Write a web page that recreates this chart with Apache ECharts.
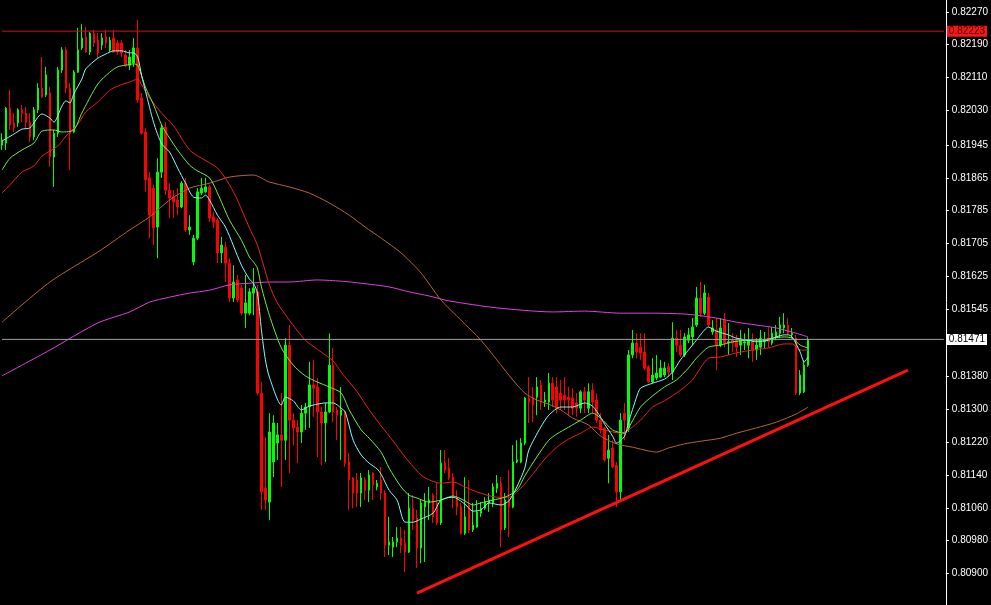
<!DOCTYPE html>
<html><head><meta charset="utf-8">
<script src="https://cdn.jsdelivr.net/npm/echarts@6/dist/echarts.min.js"></script>
<style>html,body{margin:0;padding:0;background:#000;overflow:hidden}#c{width:991px;height:605px}</style>
</head><body><div id="c"></div>
<script>
const openP=[0.81945,0.81950,0.82035,0.81999,0.81999,0.82031,0.82023,0.82001,0.81965,0.82031,0.82084,0.82067,0.82072,0.81916,0.81974,0.82128,0.82177,0.82084,0.81977,0.82123,0.82182,0.82209,0.82172,0.82218,0.82201,0.82189,0.82209,0.82177,0.82206,0.82194,0.82194,0.82165,0.82140,0.82145,0.82182,0.82060,0.81977,0.81865,0.81840,0.81745,0.81879,0.81989,0.81835,0.81818,0.81811,0.81794,0.81852,0.81738,0.81660,0.81718,0.81828,0.81831,0.81843,0.81770,0.81762,0.81682,0.81696,0.81657,0.81572,0.81616,0.81596,0.81535,0.81535,0.81584,0.81587,0.81340,0.81108,0.81074,0.81172,0.81218,0.81238,0.81225,0.81457,0.81274,0.81257,0.81245,0.81291,0.81306,0.81360,0.81355,0.81294,0.81267,0.81294,0.81408,0.81299,0.81286,0.81294,0.81172,0.81133,0.81128,0.81096,0.81128,0.81103,0.81145,0.81111,0.81128,0.81096,0.80969,0.80964,0.80977,0.80986,0.80974,0.80952,0.81059,0.81035,0.80962,0.81062,0.81072,0.81091,0.81072,0.81023,0.81169,0.81157,0.81135,0.81086,0.81062,0.80998,0.81067,0.81006,0.81013,0.81047,0.81059,0.81072,0.81072,0.81108,0.81120,0.81011,0.81079,0.81062,0.81172,0.81172,0.81218,0.81328,0.81330,0.81330,0.81360,0.81318,0.81318,0.81364,0.81355,0.81340,0.81335,0.81330,0.81328,0.81316,0.81303,0.81343,0.81303,0.81347,0.81323,0.81274,0.81255,0.81181,0.81206,0.81164,0.81099,0.81291,0.81255,0.81433,0.81462,0.81452,0.81440,0.81404,0.81367,0.81377,0.81379,0.81384,0.81404,0.81391,0.81474,0.81457,0.81433,0.81469,0.81477,0.81506,0.81572,0.81535,0.81574,0.81489,0.81494,0.81457,0.81518,0.81462,0.81469,0.81469,0.81457,0.81462,0.81457,0.81465,0.81445,0.81452,0.81465,0.81474,0.81462,0.81477,0.81486,0.81499,0.81506,0.81482,0.81474,0.81340,0.81343,0.81408];
const closeP=[0.81957,0.82035,0.81994,0.81987,0.82031,0.82023,0.82001,0.81965,0.82031,0.82084,0.82062,0.82116,0.81916,0.81974,0.82128,0.82177,0.82084,0.81974,0.82123,0.82177,0.82206,0.82172,0.82218,0.82194,0.82170,0.82206,0.82194,0.82201,0.82172,0.82172,0.82170,0.82140,0.82160,0.82182,0.82055,0.81974,0.81860,0.81774,0.81743,0.81879,0.81987,0.81835,0.81816,0.81806,0.81794,0.81852,0.81738,0.81745,0.81718,0.81831,0.81840,0.81843,0.81767,0.81757,0.81682,0.81701,0.81657,0.81572,0.81611,0.81567,0.81535,0.81560,0.81587,0.81596,0.81340,0.81099,0.81079,0.81245,0.81267,0.81238,0.81225,0.81457,0.81274,0.81255,0.81245,0.81291,0.81306,0.81360,0.81352,0.81294,0.81267,0.81294,0.81408,0.81294,0.81286,0.81299,0.81169,0.81128,0.81096,0.81096,0.81133,0.81103,0.81140,0.81116,0.81120,0.81096,0.80969,0.80977,0.80977,0.80986,0.80969,0.80952,0.81059,0.81030,0.80962,0.81072,0.81074,0.81079,0.81038,0.81023,0.81169,0.81152,0.81133,0.81086,0.81062,0.80998,0.81038,0.81006,0.81018,0.81050,0.81059,0.81074,0.81079,0.81111,0.81120,0.81006,0.81079,0.81062,0.81172,0.81177,0.81218,0.81328,0.81318,0.81311,0.81355,0.81318,0.81323,0.81364,0.81323,0.81303,0.81323,0.81323,0.81323,0.81303,0.81303,0.81343,0.81323,0.81343,0.81318,0.81274,0.81250,0.81177,0.81201,0.81160,0.81099,0.81274,0.81274,0.81433,0.81462,0.81440,0.81438,0.81401,0.81367,0.81384,0.81389,0.81401,0.81401,0.81391,0.81474,0.81457,0.81433,0.81477,0.81482,0.81501,0.81572,0.81535,0.81584,0.81506,0.81499,0.81457,0.81499,0.81462,0.81465,0.81462,0.81452,0.81469,0.81465,0.81469,0.81445,0.81457,0.81474,0.81469,0.81465,0.81486,0.81489,0.81506,0.81506,0.81486,0.81486,0.81340,0.81384,0.81408,0.81471];
const lowP=[0.81933,0.81933,0.81982,0.81977,0.81989,0.82001,0.81987,0.81953,0.81957,0.82023,0.82060,0.82062,0.81892,0.81843,0.81965,0.82121,0.82072,0.81884,0.81974,0.82121,0.82177,0.82170,0.82165,0.82184,0.82157,0.82177,0.82182,0.82172,0.82170,0.82165,0.82160,0.82136,0.82128,0.82136,0.82048,0.81970,0.81831,0.81718,0.81701,0.81669,0.81865,0.81823,0.81767,0.81767,0.81774,0.81791,0.81733,0.81726,0.81652,0.81713,0.81823,0.81828,0.81757,0.81743,0.81657,0.81657,0.81611,0.81562,0.81562,0.81562,0.81530,0.81499,0.81530,0.81530,0.81335,0.81055,0.81055,0.81030,0.81135,0.81177,0.81111,0.81177,0.81145,0.81213,0.81169,0.81218,0.81250,0.81255,0.81282,0.81184,0.81164,0.81172,0.81291,0.81269,0.81225,0.81177,0.81160,0.81055,0.81059,0.81062,0.81062,0.81079,0.81074,0.81079,0.81103,0.81079,0.80940,0.80945,0.80940,0.80964,0.80950,0.80903,0.80950,0.81006,0.80913,0.80925,0.80928,0.81030,0.81023,0.81018,0.81018,0.81145,0.81128,0.81059,0.81042,0.80994,0.80994,0.80998,0.81001,0.81011,0.81038,0.81055,0.81050,0.81062,0.81096,0.80964,0.81006,0.80989,0.81059,0.81169,0.81169,0.81213,0.81267,0.81269,0.81286,0.81299,0.81306,0.81299,0.81306,0.81291,0.81299,0.81299,0.81286,0.81286,0.81282,0.81291,0.81291,0.81291,0.81291,0.81267,0.81242,0.81172,0.81120,0.81157,0.81062,0.81079,0.81225,0.81245,0.81425,0.81425,0.81421,0.81396,0.81364,0.81364,0.81372,0.81377,0.81379,0.81379,0.81372,0.81440,0.81428,0.81428,0.81462,0.81457,0.81501,0.81526,0.81530,0.81501,0.81482,0.81396,0.81452,0.81452,0.81433,0.81440,0.81428,0.81433,0.81445,0.81425,0.81416,0.81421,0.81433,0.81450,0.81450,0.81457,0.81469,0.81474,0.81486,0.81482,0.81474,0.81335,0.81335,0.81340,0.81404];
const highP=[0.81974,0.82038,0.82079,0.82023,0.82035,0.82043,0.82038,0.82023,0.82038,0.82096,0.82160,0.82136,0.82087,0.81982,0.82136,0.82184,0.82184,0.82096,0.82128,0.82231,0.82240,0.82233,0.82221,0.82226,0.82218,0.82218,0.82226,0.82209,0.82226,0.82201,0.82201,0.82177,0.82177,0.82206,0.82250,0.82072,0.81987,0.81879,0.81848,0.81913,0.81994,0.82001,0.81852,0.81835,0.81840,0.81857,0.81865,0.81774,0.81726,0.81840,0.81865,0.81865,0.81848,0.81782,0.81767,0.81721,0.81709,0.81669,0.81652,0.81628,0.81604,0.81628,0.81596,0.81645,0.81604,0.81367,0.81233,0.81291,0.81286,0.81267,0.81340,0.81474,0.81506,0.81291,0.81274,0.81311,0.81316,0.81416,0.81421,0.81377,0.81306,0.81316,0.81486,0.81450,0.81306,0.81355,0.81299,0.81194,0.81135,0.81145,0.81145,0.81135,0.81152,0.81147,0.81128,0.81160,0.81103,0.81038,0.80989,0.81013,0.81013,0.81006,0.81096,0.81091,0.81055,0.81079,0.81096,0.81111,0.81096,0.81120,0.81201,0.81201,0.81181,0.81145,0.81103,0.81072,0.81135,0.81128,0.81072,0.81079,0.81074,0.81086,0.81096,0.81120,0.81140,0.81135,0.81096,0.81152,0.81213,0.81225,0.81230,0.81330,0.81379,0.81355,0.81379,0.81372,0.81343,0.81389,0.81379,0.81379,0.81372,0.81379,0.81355,0.81352,0.81340,0.81347,0.81355,0.81364,0.81364,0.81340,0.81291,0.81257,0.81238,0.81225,0.81172,0.81291,0.81316,0.81445,0.81494,0.81486,0.81486,0.81486,0.81408,0.81425,0.81433,0.81421,0.81416,0.81413,0.81513,0.81494,0.81494,0.81486,0.81499,0.81523,0.81599,0.81611,0.81604,0.81584,0.81518,0.81523,0.81523,0.81535,0.81511,0.81486,0.81482,0.81494,0.81486,0.81499,0.81486,0.81474,0.81494,0.81489,0.81501,0.81501,0.81506,0.81526,0.81535,0.81523,0.81499,0.81482,0.81396,0.81421,0.81476];

const cyanIdx=[0,3,5,7,10,12,13,15,16,17,18,20,21,24,26,28,30,32,33,34,35,36,38,40,42,44,46,48,50,51,52,54,56,58,60,62,63,64,65,66,67,70,71,73,75,77,79,81,83,85,86,88,90,92,94,95,97,99,101,103,105,108,110,113,116,118,120,122,125,127,129,131,132,135,137,140,143,146,148,150,151,153,154,156,157,159,160,163,166,168,170,172,174,175,177,179,182,184,187,189,192,194,196,197,198,200,201,202];
const cyanVal=[0.81955,0.81972,0.81984,0.81987,0.82021,0.82011,0.82001,0.82040,0.82053,0.82048,0.82070,0.82106,0.82131,0.82157,0.82167,0.82175,0.82175,0.82170,0.82170,0.82160,0.82114,0.82075,0.82000,0.81948,0.81928,0.81889,0.81852,0.81818,0.81816,0.81823,0.81811,0.81774,0.81745,0.81699,0.81652,0.81618,0.81608,0.81584,0.81494,0.81421,0.81379,0.81311,0.81330,0.81321,0.81299,0.81308,0.81313,0.81316,0.81316,0.81303,0.81294,0.81225,0.81189,0.81169,0.81155,0.81142,0.81103,0.81079,0.81025,0.81025,0.81033,0.81047,0.81079,0.81086,0.81069,0.81052,0.81055,0.81072,0.81067,0.81077,0.81111,0.81157,0.81201,0.81257,0.81286,0.81306,0.81306,0.81316,0.81308,0.81281,0.81264,0.81235,0.81218,0.81235,0.81269,0.81330,0.81352,0.81364,0.81374,0.81391,0.81421,0.81445,0.81469,0.81482,0.81501,0.81491,0.81482,0.81474,0.81469,0.81465,0.81469,0.81477,0.81482,0.81482,0.81477,0.81440,0.81416,0.81428];
const greenIdx=[0,2,5,8,10,13,15,18,20,24,27,29,31,33,34,36,38,40,42,44,47,49,52,54,57,60,62,63,64,65,67,70,73,76,79,82,85,87,90,92,95,97,100,102,104,107,110,113,116,118,120,123,126,129,131,134,137,139,142,145,148,150,153,156,157,160,163,166,169,172,174,177,180,183,187,190,193,196,198,200,202];
const greenVal=[0.81884,0.81913,0.81933,0.81950,0.81979,0.81982,0.81977,0.81982,0.82023,0.82094,0.82123,0.82136,0.82140,0.82143,0.82140,0.82085,0.82043,0.81994,0.81962,0.81933,0.81896,0.81882,0.81865,0.81828,0.81762,0.81713,0.81672,0.81660,0.81645,0.81599,0.81530,0.81450,0.81408,0.81382,0.81367,0.81355,0.81340,0.81299,0.81250,0.81230,0.81196,0.81157,0.81111,0.81091,0.81084,0.81074,0.81079,0.81089,0.81077,0.81067,0.81072,0.81079,0.81086,0.81103,0.81138,0.81184,0.81225,0.81240,0.81257,0.81274,0.81291,0.81279,0.81250,0.81242,0.81255,0.81306,0.81333,0.81355,0.81372,0.81401,0.81425,0.81452,0.81457,0.81465,0.81469,0.81469,0.81474,0.81477,0.81474,0.81457,0.81450];
const redIdx=[0,2,5,8,10,14,16,19,21,24,27,29,32,34,35,37,40,43,47,50,54,57,59,62,64,67,69,72,76,79,83,85,89,92,95,98,101,104,106,110,113,116,119,124,127,130,133,136,139,142,145,148,151,155,157,160,163,166,170,173,175,177,180,184,188,192,196,198,200,202];
const redVal=[0.81828,0.81848,0.81879,0.81894,0.81918,0.81943,0.81967,0.81996,0.82026,0.82050,0.82079,0.82089,0.82099,0.82106,0.82092,0.82060,0.82023,0.81992,0.81933,0.81913,0.81889,0.81848,0.81811,0.81743,0.81701,0.81604,0.81560,0.81518,0.81469,0.81447,0.81418,0.81391,0.81343,0.81299,0.81260,0.81223,0.81184,0.81150,0.81133,0.81120,0.81123,0.81111,0.81099,0.81086,0.81086,0.81108,0.81142,0.81179,0.81208,0.81228,0.81242,0.81257,0.81250,0.81242,0.81250,0.81274,0.81306,0.81321,0.81347,0.81372,0.81401,0.81425,0.81428,0.81438,0.81445,0.81450,0.81460,0.81460,0.81445,0.81445];
const brownIdx=[0,12,24,32,37,42,47,52,57,63,67,72,77,82,87,91,95,100,105,110,115,120,124,128,131,134,137,140,143,147,150,154,158,162,164,167,171,174,180,184,189,194,199,202];
const brownVal=[0.81513,0.81611,0.81684,0.81738,0.81770,0.81811,0.81840,0.81852,0.81867,0.81872,0.81855,0.81843,0.81828,0.81804,0.81774,0.81745,0.81718,0.81682,0.81633,0.81567,0.81518,0.81469,0.81421,0.81372,0.81340,0.81323,0.81313,0.81299,0.81279,0.81262,0.81235,0.81216,0.81208,0.81199,0.81196,0.81206,0.81216,0.81221,0.81230,0.81242,0.81255,0.81269,0.81289,0.81306];
const magentaIdx=[0,12,24,32,37,42,47,52,57,62,67,72,79,85,90,97,102,107,112,124,138,146,155,163,171,174,179,184,189,194,199,202];
const magentaVal=[0.81382,0.81445,0.81511,0.81538,0.81562,0.81574,0.81584,0.81591,0.81604,0.81608,0.81611,0.81611,0.81616,0.81613,0.81608,0.81599,0.81587,0.81577,0.81565,0.81548,0.81538,0.81540,0.81535,0.81535,0.81533,0.81530,0.81523,0.81513,0.81506,0.81499,0.81486,0.81477];
const trendIdx=[104,227];
const trendVal=[0.80852,0.81396];
const levelLine=0.82223;
const bidLine=0.81471;
const yTicks=[0.82270,0.82190,0.82110,0.82030,0.81945,0.81865,0.81785,0.81705,0.81625,0.81545,0.81380,0.81300,0.81220,0.81140,0.81060,0.80980,0.80900];
const totalBars=237;
const categories=Array.from({length:totalBars},(_,i)=>String(i));

const candles=openP.map((o,k)=>[o,closeP[k],lowP[k],highP[k]]);
const pairs=(ix,vs)=>ix.map((x,k)=>[x,vs[k]]);
const ma=(name,ix,vs,color)=>({name,type:'line',data:pairs(ix,vs),symbol:'none',smooth:0.25,
  lineStyle:{color,width:1},silent:true,z:3});
const hLine=(name,value,lineColor,bg,fg)=>({name,type:'line',silent:true,symbol:'none',z:5,
  data:[[0,value],[totalBars-1,value]],
  lineStyle:{color:lineColor,width:1},
  endLabel:{show:true,distance:3,formatter:()=>value.toFixed(5),
    backgroundColor:bg,color:fg,padding:[1,2,0,2],fontSize:10,fontFamily:'Liberation Sans'}});

const chart=echarts.init(document.getElementById('c'),null,{renderer:'canvas'});
chart.setOption({
  backgroundColor:'#000000',
  animation:false,
  grid:{left:0,right:43,top:0,bottom:0},
  xAxis:{type:'category',data:categories,boundaryGap:true,show:false},
  yAxis:{type:'value',position:'right',min:0.80823,max:0.82299,scale:true,
    splitLine:{show:false},
    axisLine:{show:true,lineStyle:{color:'#ffffff',width:1}},
    axisTick:{show:true,customValues:yTicks,length:3,lineStyle:{color:'#ffffff'}},
    axisLabel:{customValues:yTicks,formatter:v=>v.toFixed(5),color:'#ffffff',fontSize:10,
      fontFamily:'Liberation Sans',margin:6}
  },
  series:[
    {type:'candlestick',data:candles,barWidth:2,z:2,
      itemStyle:{color:'#00ff00',color0:'#ff0000',borderColor:'#00ff00',borderColor0:'#ff0000',borderWidth:1}
    },
    ma('magenta',magentaIdx,magentaVal,'#e040e0'),
    ma('brown',brownIdx,brownVal,'#b8643a'),
    ma('red',redIdx,redVal,'#e82020'),
    ma('green',greenIdx,greenVal,'#70f040'),
    ma('cyan',cyanIdx,cyanVal,'#80ffff'),
    {name:'trend',type:'line',data:pairs(trendIdx,trendVal),symbol:'none',silent:true,z:4,
      lineStyle:{color:'#ff1010',width:3}},
    hLine('level',levelLine,'#d41414','#f01818','#5a0000'),
    hLine('bid',bidLine,'#a0a0a0','#ffffff','#000000')
  ]
});
</script></body></html>
